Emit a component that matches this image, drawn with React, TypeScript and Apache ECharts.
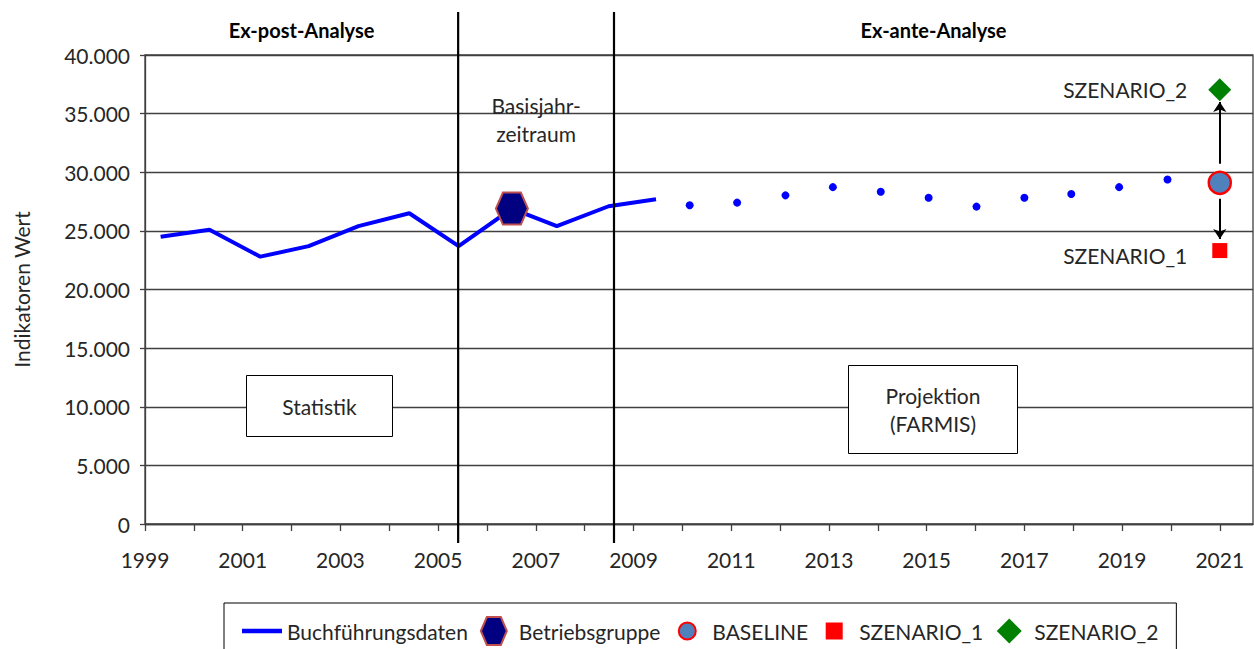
import React, { useEffect, useRef } from 'react';
import * as echarts from 'echarts';

// ---- data ----
const tickYears = [1999, 2000, 2001, 2002, 2003, 2004, 2005, 2006, 2007, 2008, 2009, 2010, 2011, 2012, 2013, 2014, 2015, 2016, 2017, 2018, 2019, 2020, 2021];
const labelYears = [1999, 2001, 2003, 2005, 2007, 2009, 2011, 2013, 2015, 2017, 2019, 2021];
const xMin = 1999;
const xMax = 2021.68;

const buchYears = [1999.32, 2000.32, 2001.36, 2002.35, 2003.37, 2004.41, 2005.42, 2006.51, 2007.43, 2008.49, 2009.46];
const buchValues = [24500, 25100, 22800, 23700, 25400, 26500, 23700, 26900, 25400, 27100, 27700];

const betriebsYear = 2006.51;
const betriebsValue = 26900;

const projYears = [2010.15, 2011.12, 2012.11, 2013.08, 2014.06, 2015.04, 2016.02, 2017.0, 2017.96, 2018.94, 2019.93];
const projValues = [27180, 27410, 28030, 28730, 28340, 27830, 27070, 27830, 28140, 28730, 29380];

const scenarioYear = 2021;
const baselineValue = 29100;
const szenario1Value = 23320;
const szenario2Value = 37040;

const arrowUp = [30730, 36000];
const arrowDown = [27750, 24310];

const phaseBoundaries = [2005.41, 2008.6];
const phaseTitles = ['Ex-post-Analyse', 'Ex-ante-Analyse'];

const FONT = 'Lato, "Open Sans", sans-serif';
const TXT = '#262626';
const AX = '#404040';

const fmtDE = (v: number) => String(Math.round(v)).replace(/\B(?=(\d{3})+(?!\d))/g, '.');

export default function App() {
  const ref = useRef<HTMLDivElement>(null);

  useEffect(() => {
    if (!ref.current) return;
    const chart = echarts.init(ref.current, null, { renderer: 'svg' });

    const option: any = {
      animation: false,
      backgroundColor: '#ffffff',
      grid: {
        left: 145, right: 1, top: 55, bottom: 125,
        show: true, borderColor: AX, borderWidth: 1.3, backgroundColor: 'transparent',
      },
      xAxis: {
        type: 'value', min: xMin, max: xMax,
        splitLine: { show: false },
        axisLine: { show: true, lineStyle: { color: AX, width: 1.3 } },
        axisTick: { show: true, length: 7, customValues: tickYears, lineStyle: { color: AX, width: 1.3 } },
        axisLabel: {
          customValues: labelYears, margin: 25,
          fontFamily: FONT, fontSize: 21, color: TXT,
          formatter: (v: number) => String(v),
        },
      },
      yAxis: {
        type: 'value', min: 0, max: 40000, interval: 5000,
        name: 'Indikatoren Wert', nameLocation: 'middle', nameRotate: 90, nameGap: 113,
        nameTextStyle: { fontFamily: FONT, fontSize: 21, color: TXT },
        splitLine: { show: true, lineStyle: { color: AX, width: 1.3 } },
        axisLine: { show: true, lineStyle: { color: AX, width: 1.3 } },
        axisTick: { show: true, length: 5, lineStyle: { color: AX, width: 1.3 } },
        axisLabel: { margin: 15, fontFamily: FONT, fontSize: 21, color: TXT, formatter: (v: number) => fmtDE(v) },
      },
      legend: {
        left: 224, top: 603,
        padding: [13, 18, 16, 18],
        borderColor: '#000', borderWidth: 1, backgroundColor: '#fff',
        itemWidth: 40, itemHeight: 28, itemGap: 12,
        textStyle: { fontFamily: FONT, fontSize: 21, color: TXT },
        data: [
          { name: 'Buchführungsdaten', icon: 'path://M0,0H41V4.5H0Z', itemStyle: { borderWidth: 0 } },
          { name: 'Betriebsgruppe', icon: 'path://M0,14L6,0H20L26,14L20,28H6Z' },
          { name: 'BASELINE', icon: 'path://M0,0M28,28M5.5,14A8.5,8.5,0,1,0,22.5,14A8.5,8.5,0,1,0,5.5,14Z' },
          { name: 'SZENARIO_1', icon: 'path://M0,0M28,28M5.5,5.5H22.5V22.5H5.5Z' },
          { name: 'SZENARIO_2', icon: 'path://M0,0M28,28M14,1.5L26.5,14L14,26.5L1.5,14Z' },
        ],
      },
      series: [
        {
          name: 'Buchführungsdaten', type: 'line', symbol: 'none', z: 3,
          lineStyle: { color: '#0000ff', width: 4 },
          itemStyle: { color: '#0000ff', borderWidth: 0 },
          data: buchYears.map((y, i) => [y, buchValues[i]]),
        },
        {
          name: 'Projektion', type: 'scatter', symbol: 'circle', symbolSize: 8, z: 3,
          itemStyle: { color: '#0000ff', opacity: 1 },
          data: projYears.map((y, i) => [y, projValues[i]]),
        },
        {
          name: 'Betriebsgruppe', type: 'scatter', z: 5,
          symbol: 'path://M0,50L22,0H78L100,50L78,100H22Z', symbolSize: [32, 32],
          itemStyle: { color: '#000080', borderColor: '#c0504d', borderWidth: 2, opacity: 1 },
          data: [[betriebsYear, betriebsValue]],
        },
        {
          name: 'BASELINE', type: 'scatter', symbol: 'circle', symbolSize: 22, z: 5,
          itemStyle: { color: '#4f81bd', borderColor: '#ff0000', borderWidth: 2.5, opacity: 1 },
          data: [[scenarioYear, baselineValue]],
          markLine: {
            silent: true, symbol: ['none', 'arrow'], symbolSize: 10,
            label: { show: false },
            lineStyle: { color: '#000', width: 2, type: 'solid' },
            data: [
              [{ coord: [scenarioYear, arrowUp[0]] }, { coord: [scenarioYear, arrowUp[1]] }],
              [{ coord: [scenarioYear, arrowDown[0]] }, { coord: [scenarioYear, arrowDown[1]] }],
            ],
          },
        },
        {
          name: 'SZENARIO_1', type: 'scatter', symbol: 'rect', symbolSize: 15, z: 5,
          itemStyle: { color: '#ff0000', opacity: 1 },
          label: {
            show: true, position: 'left', distance: 25, offset: [0, 5],
            formatter: 'SZENARIO_1', fontFamily: FONT, fontSize: 21, color: TXT,
          },
          data: [[scenarioYear, szenario1Value]],
        },
        {
          name: 'SZENARIO_2', type: 'scatter', symbol: 'diamond', symbolSize: 23, z: 5,
          itemStyle: { color: '#008000', opacity: 1 },
          label: {
            show: true, position: 'left', distance: 21,
            formatter: 'SZENARIO_2', fontFamily: FONT, fontSize: 21, color: TXT,
          },
          data: [[scenarioYear, szenario2Value]],
        },
      ],
    };

    chart.setOption(option);

    const px = (v: number) => chart.convertToPixel({ xAxisIndex: 0 }, v) as number;
    const left = px(xMin);
    const right = px(xMax);
    const b = phaseBoundaries.map(px);
    const graphics: any[] = [];
    b.forEach((x) => {
      graphics.push({
        type: 'line', z: 50, silent: true,
        shape: { x1: x, y1: 12, x2: x, y2: 543 },
        style: { stroke: '#000', lineWidth: 2.2 },
      });
    });
    const titleCenters = [(left + b[0]) / 2, (b[1] + right) / 2];
    phaseTitles.forEach((t, i) => {
      graphics.push({
        type: 'text', z: 50, x: titleCenters[i], y: 30,
        style: { text: t, fontFamily: FONT, fontSize: 20, fontWeight: 'bold', fill: '#000', align: 'center', verticalAlign: 'middle' },
      });
    });
    graphics.push({
      type: 'text', z: 50, x: (b[0] + b[1]) / 2, y: 119,
      style: { text: 'Basisjahr-\nzeitraum', fontFamily: FONT, fontSize: 21, lineHeight: 28, fill: TXT, align: 'center', verticalAlign: 'middle' },
    });
    // annotation boxes
    graphics.push({
      type: 'rect', z: 50, shape: { x: 246.5, y: 375.5, width: 146, height: 61 },
      style: { fill: '#fff', stroke: '#000', lineWidth: 1 },
    });
    graphics.push({
      type: 'text', z: 51, x: 319.5, y: 406,
      style: { text: 'Statistik', fontFamily: FONT, fontSize: 21, fill: TXT, align: 'center', verticalAlign: 'middle' },
    });
    graphics.push({
      type: 'rect', z: 50, shape: { x: 848.5, y: 365.5, width: 169, height: 88 },
      style: { fill: '#fff', stroke: '#000', lineWidth: 1 },
    });
    graphics.push({
      type: 'text', z: 51, x: 933, y: 409,
      style: { text: 'Projektion\n(FARMIS)', fontFamily: FONT, fontSize: 21, lineHeight: 28, fill: TXT, align: 'center', verticalAlign: 'middle' },
    });
    chart.setOption({ graphic: graphics });

    return () => chart.dispose();
  }, []);

  return <div ref={ref} style={{ position: 'fixed', left: 0, top: 0, width: 1254, height: 649 }} />;
}
